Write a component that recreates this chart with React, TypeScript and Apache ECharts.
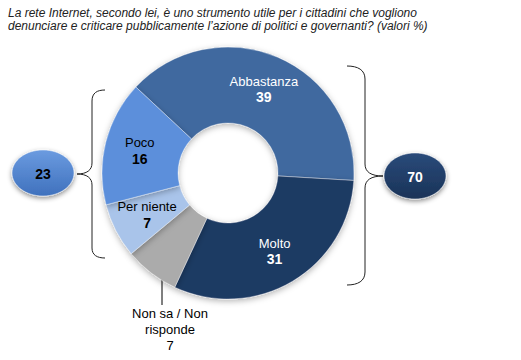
import React, { useEffect, useRef } from "react";
import * as echarts from "echarts";

const titleLines = [
  "La rete Internet, secondo lei, è uno strumento utile per i cittadini che vogliono",
  "denunciare e criticare pubblicamente l’azione di politici e governanti? (valori %)",
];
const categories = ["Abbastanza", "Molto", "Non sa / Non risponde", "Per niente", "Poco"];
const values = [39, 31, 7, 7, 16];
const sliceColors = ["#41699f", "#1f3a64", "#ababab", "#a9c4ea", "#5b8fdb"];
const labelColors = ["#ffffff", "#ffffff", "#000000", "#000000", "#000000"];
const positiveGroup = ["Abbastanza", "Molto"];
const negativeGroup = ["Per niente", "Poco"];

const FONT = "'Liberation Sans', Arial, sans-serif";

const sumOf = (names: string[]) =>
  names.reduce((s, n) => s + values[categories.indexOf(n)], 0);

let registered = false;
function registerShapes() {
  if (registered) return;
  registered = true;
  const leftBrace =
    "M105,90 C97,90 92,93 92,101 L92,163 C92,170 87,174 77,174 C87,174 92,178 92,185 L92,248 C92,255 97,258 105,258";
  const rightBrace =
    "M347,66 C358,66 365,70 365,79 L365,164 C365,172 371,176 383,176 C371,176 365,180 365,188 L365,272 C365,281 358,285 347,285";
  echarts.graphic.registerShape("leftBrace", echarts.graphic.extendPath(leftBrace, {}) as any);
  echarts.graphic.registerShape("rightBrace", echarts.graphic.extendPath(rightBrace, {}) as any);
}

export default function App() {
  const ref = useRef<HTMLDivElement>(null);
  useEffect(() => {
    document.body.style.margin = "0";
    registerShapes();
    const chart = echarts.init(ref.current!, null, { renderer: "svg" });
    const cx = 228;
    const cy = 173;
    const data = categories.map((name, i) => {
      const item: any = {
        name,
        value: values[i],
        itemStyle: { color: sliceColors[i] },
        label: { color: labelColors[i] },
      };
      if (i === 2) {
        item.label = {
          position: "outside",
          color: "#000",
          formatter: () => "{o|Non sa / Non}\n{o|risponde}\n{o|" + values[i] + "}",
        };
        item.labelLine = { show: true, length: 10, length2: 10, lineStyle: { color: "#000", width: 1 } };
      }
      return item;
    });

    const ellipse = (x: number, y: number, top: string, bottom: string, text: string, color: string) => [
      {
        type: "ellipse",
        shape: { cx: x, cy: y, rx: 31, ry: 23 },
        style: {
          fill: new echarts.graphic.LinearGradient(0, 0, 0, 1, [
            { offset: 0, color: top },
            { offset: 1, color: bottom },
          ]),
          stroke: "rgba(255,255,255,0.5)",
          lineWidth: 1,
          shadowBlur: 5,
          shadowOffsetY: 2,
          shadowColor: "rgba(0,0,0,0.45)",
        },
      },
      {
        type: "text",
        x,
        y: y + 1,
        style: {
          text,
          fill: color,
          font: "bold 14px " + FONT,
          align: "center",
          verticalAlign: "middle",
          textAlign: "center",
          textVerticalAlign: "middle",
        },
      },
    ];

    chart.setOption({
      animation: false,
      title: {
        text: titleLines.join("\n"),
        left: 3,
        top: 1,
        textStyle: {
          fontFamily: FONT,
          fontStyle: "italic",
          fontWeight: "normal",
          fontSize: 12,
          lineHeight: 13,
          color: "#222",
        },
      },
      graphic: [
        { type: "leftBrace", x: 0, y: 0, style: { fill: "none", stroke: "#222", lineWidth: 1 } },
        { type: "rightBrace", x: 0, y: 0, style: { fill: "none", stroke: "#222", lineWidth: 1 } },
        ...ellipse(43, 173, "#6b9be0", "#3f71bd", String(sumOf(negativeGroup)), "#000"),
        ...ellipse(415, 176, "#2a4a7a", "#1a3358", String(sumOf(positiveGroup)), "#fff"),
      ],
      series: [
        {
          type: "pie",
          center: [cx, cy],
          radius: [50, 126],
          startAngle: 137,
          clockwise: true,
          avoidLabelOverlap: false,
          silent: true,
          itemStyle: {
            borderColor: "rgba(255,255,255,0.35)",
            borderWidth: 1,
            shadowBlur: 6,
            shadowOffsetY: 2,
            shadowColor: "rgba(0,0,0,0.3)",
          },
          label: {
            show: true,
            position: "inside",
            fontFamily: FONT,
            formatter: (p: any) => "{n|" + p.name + "}\n{v|" + p.value + "}",
            rich: {
              n: { fontFamily: FONT, fontSize: 13, lineHeight: 16 },
              v: { fontFamily: FONT, fontSize: 14, fontWeight: "bold", lineHeight: 16 },
              o: { fontFamily: FONT, fontSize: 13, lineHeight: 16, color: "#000" },
            },
          },
          labelLayout: (params: any) => {
            if (params.dataIndex === 2) {
              return {
                x: 170,
                y: 329,
                align: "center",
                verticalAlign: "middle",
                labelLinePoints: [
                  [162, 273],
                  [162, 290],
                  [162, 305],
                ],
              };
            }
            return {};
          },
          data,
        },
      ],
    });
    return () => chart.dispose();
  }, []);
  return <div ref={ref} style={{ width: 521, height: 360 }} />;
}
